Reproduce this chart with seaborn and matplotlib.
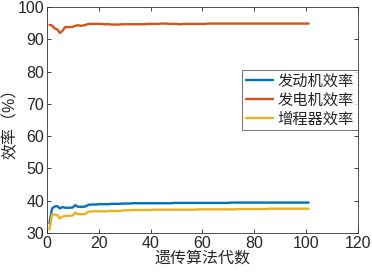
import pandas as pd
import matplotlib
matplotlib.use('Agg')
import matplotlib.pyplot as plt
import seaborn as sns

# generations 1..101
gen = list(range(1, 102))

engine = [33.0, 37.6, 38.2, 38.3, 37.6, 38.0, 37.8, 37.8, 37.8, 37.9,
          38.6, 38.1, 38.1, 38.1, 38.2, 38.7, 38.8, 38.8, 38.8, 38.9,
          38.9, 38.9, 38.9, 38.9, 39.0, 39.0, 39.0, 39.0, 39.1, 39.1,
          39.1, 39.1, 39.2, 39.2, 39.2, 39.2, 39.2, 39.2, 39.2, 39.2,
          39.2, 39.2, 39.2, 39.2, 39.2, 39.2, 39.2, 39.2, 39.3, 39.3,
          39.3, 39.3, 39.3, 39.3, 39.3, 39.3, 39.3, 39.3, 39.3, 39.3,
          39.3, 39.3, 39.3, 39.3, 39.3, 39.3, 39.3, 39.3, 39.3, 39.3,
          39.4, 39.4, 39.4, 39.4, 39.4, 39.4, 39.4, 39.4, 39.4, 39.4,
          39.4, 39.4, 39.4, 39.4, 39.4, 39.4, 39.4, 39.4, 39.4, 39.4,
          39.4, 39.4, 39.4, 39.4, 39.4, 39.4, 39.4, 39.4, 39.4, 39.4,
          39.4]

generator = [94.5, 94.3, 93.4, 93.1, 92.0, 92.6, 93.8, 93.8, 93.8, 93.9,
             94.2, 94.4, 94.2, 94.3, 94.5, 94.8, 94.8, 94.8, 94.8, 94.8,
             94.8, 94.7, 94.7, 94.7, 94.6, 94.6, 94.6, 94.6, 94.7, 94.7,
             94.7, 94.7, 94.7, 94.7, 94.7, 94.7, 94.7, 94.7, 94.8, 94.8,
             94.8, 94.8, 94.8, 94.9, 94.9, 94.9, 94.8, 94.8, 94.8, 94.8,
             94.7, 94.7, 94.8, 94.8, 94.8, 94.8, 94.8, 94.8, 94.8, 94.8,
             94.8, 94.9, 94.9, 94.9, 94.9, 94.9, 94.9, 94.9, 94.9, 94.9,
             94.9, 94.9, 94.9, 94.9, 94.9, 94.9, 94.9, 94.9, 94.9, 94.9,
             94.9, 94.9, 94.9, 94.9, 94.9, 94.9, 94.9, 94.9, 94.9, 94.9,
             94.9, 94.9, 94.9, 94.9, 94.9, 94.9, 94.9, 94.9, 94.9, 94.9,
             94.9]

extender = [31.0, 35.8, 35.7, 35.5, 34.5, 35.0, 35.3, 35.3, 35.3, 35.4,
            36.3, 35.8, 35.8, 35.8, 35.9, 36.6, 36.6, 36.7, 36.7, 36.7,
            36.7, 36.7, 36.7, 36.8, 36.8, 36.8, 36.8, 36.8, 36.9, 37.0,
            37.0, 37.0, 37.1, 37.1, 37.1, 37.1, 37.1, 37.1, 37.1, 37.1,
            37.2, 37.2, 37.2, 37.2, 37.2, 37.2, 37.2, 37.2, 37.2, 37.2,
            37.2, 37.2, 37.2, 37.2, 37.2, 37.2, 37.2, 37.3, 37.3, 37.3,
            37.3, 37.3, 37.3, 37.3, 37.3, 37.3, 37.3, 37.3, 37.3, 37.3,
            37.3, 37.3, 37.3, 37.4, 37.4, 37.4, 37.4, 37.4, 37.4, 37.4,
            37.4, 37.4, 37.4, 37.4, 37.4, 37.5, 37.5, 37.5, 37.5, 37.5,
            37.5, 37.5, 37.5, 37.5, 37.5, 37.5, 37.5, 37.5, 37.5, 37.5,
            37.5]

labels = ['发动机效率', '发电机效率', '增程器效率']
my_pal = {'发动机效率': '#0072BD', '发电机效率': '#D95319', '增程器效率': '#EDB120'}

df = pd.concat([
    pd.DataFrame({'gen': gen, 'eff': engine, 'name': labels[0]}),
    pd.DataFrame({'gen': gen, 'eff': generator, 'name': labels[1]}),
    pd.DataFrame({'gen': gen, 'eff': extender, 'name': labels[2]}),
])

sns.set_style('ticks')
plt.rcParams['font.family'] = ['Liberation Sans', 'Noto Sans CJK SC', 'DejaVu Sans']
plt.rcParams['xtick.direction'] = 'in'
plt.rcParams['ytick.direction'] = 'in'

fig = plt.figure(figsize=(3.72, 2.74), dpi=100)
ax = fig.add_axes([0.126, 0.150, 0.836, 0.824])
sns.lineplot(data=df, x='gen', y='eff', hue='name', palette=my_pal,
             linewidth=1.7, ax=ax)

ax.set_xlim(0, 120)
ax.set_ylim(30, 100)
ax.set_xticks(range(0, 121, 20))
ax.set_yticks(range(30, 101, 10))
ax.tick_params(labelsize=11.5, length=3, width=0.6, top=True, right=True, pad=2)
for s in ax.spines.values():
    s.set_linewidth(0.6)
    s.set_color('#333333')
ax.set_xlabel('遗传算法代数', fontsize=11.5, labelpad=0)
ax.set_ylabel('效率（%）', fontsize=11.5, labelpad=0)

leg = ax.legend(loc='upper right', bbox_to_anchor=(1.0, 0.72), fontsize=11,
                frameon=True, fancybox=False, handlelength=1.8, handletextpad=0.3,
                borderpad=0.25, labelspacing=0.3, borderaxespad=0)
leg.get_frame().set_edgecolor('#333333')
leg.get_frame().set_linewidth(0.6)

plt.savefig('out.png', dpi=100)
